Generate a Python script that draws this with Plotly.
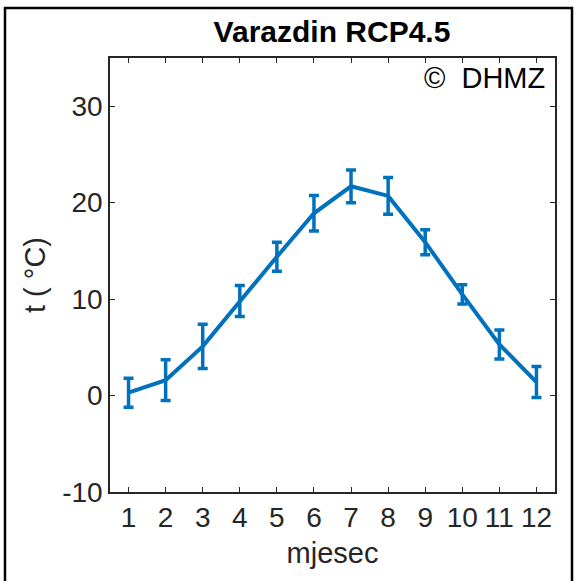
import plotly.graph_objects as go

months = [1, 2, 3, 4, 5, 6, 7, 8, 9, 10, 11, 12]
mean_t = [0.3, 1.6, 5.1, 9.8, 14.4, 18.9, 21.7, 20.7, 15.9, 10.5, 5.3, 1.4]
err_t = [1.5, 2.1, 2.3, 1.6, 1.5, 1.85, 1.7, 1.9, 1.3, 1.0, 1.5, 1.6]
y_ticks = [-10, 0, 10, 20, 30]
y_tick_text = ["-10", "0", "10", "20", "30"]

blue = "#0072BD"
axis_col = "#262626"
font_fam = "Liberation Sans, Arial, Helvetica, sans-serif"

fig = go.Figure()
fig.add_trace(go.Scatter(
    x=months, y=mean_t, mode="lines",
    line=dict(color=blue, width=4),
    error_y=dict(type="data", array=err_t, visible=True, color=blue,
                 thickness=3.5, width=5),
    showlegend=False,
))

W, H = 576, 581
ml, mr, mt, mb = 110, 21, 58, 89
pw = W - ml - mr
ph = H - mt - mb

def px_x(x):
    return (x - ml) / pw

def px_y(y):
    return (H - mb - y) / ph

fig.update_layout(
    width=W, height=H,
    margin=dict(l=ml, r=mr, t=mt, b=mb, pad=0),
    paper_bgcolor="white", plot_bgcolor="white",
    font=dict(family=font_fam, color=axis_col),
    title=dict(text="<b>Varazdin RCP4.5</b>", xref="container", x=332 / W, xanchor="center",
               yref="container", y=1 - 31 / H, yanchor="middle",
               font=dict(size=30, color="black", family=font_fam)),
    xaxis=dict(range=[0.5, 12.5], tickvals=months, ticktext=[str(m) for m in months],
               ticks="inside", ticklen=5, tickwidth=1, tickcolor=axis_col,
               showline=True, linecolor=axis_col, linewidth=1.5, mirror="ticks",
               showgrid=False, zeroline=False,
               tickfont=dict(size=28, color=axis_col),
               title=dict(text="mjesec", font=dict(size=29, color=axis_col), standoff=10)),
    yaxis=dict(range=[-10, 35], tickvals=y_ticks, ticktext=y_tick_text,
               ticks="inside", ticklen=5, tickwidth=1, tickcolor=axis_col,
               showline=True, linecolor=axis_col, linewidth=1.5, mirror="ticks",
               showgrid=False, zeroline=False,
               tickfont=dict(size=28, color=axis_col),
               title=dict(text="t ( °C)", font=dict(size=29, color=axis_col), standoff=8)),
)

fig.add_annotation(text="©  DHMZ", xref="paper", yref="paper",
                   x=px_x(547), y=px_y(78), xanchor="right", yanchor="middle",
                   showarrow=False, font=dict(size=29, color="black", family=font_fam))

fig.add_shape(type="rect", xref="paper", yref="paper",
              x0=px_x(5), x1=px_x(572), y0=px_y(600), y1=px_y(8),
              line=dict(color="black", width=2.5), fillcolor="rgba(0,0,0,0)", layer="above")

fig.write_html("out.html")
